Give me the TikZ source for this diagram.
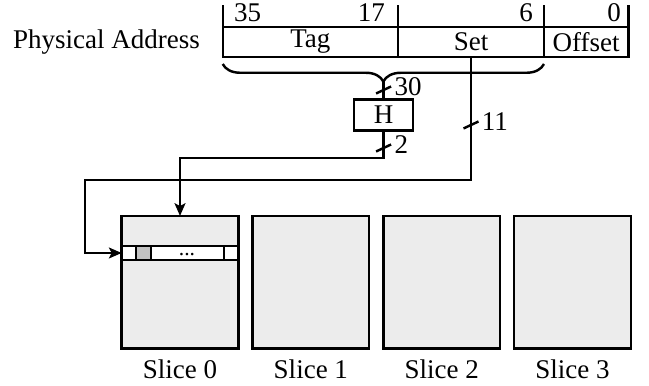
\documentclass[tikz,border=0pt]{standalone}
\usepackage{fontspec}
\setmainfont{Liberation Serif}
\usetikzlibrary{positioning,calc,arrows.meta,decorations.pathreplacing}
\definecolor{slicegray}{HTML}{ECECEC}
\definecolor{cellgray}{HTML}{C2C2C2}

\begin{document}
\begin{tikzpicture}[x=0.01302cm,y=-0.01302cm,line width=0.9pt,
	field/.style={draw,minimum height=11.1pt,inner sep=0pt,outer sep=0pt},
	bitno/.style={anchor=base east,inner sep=0pt},
	slicebox/.style={draw,fill=slicegray,minimum width=43.2pt,minimum height=49pt,inner sep=0pt,outer sep=0pt},
	wire/.style={line width=0.9pt},
	towire/.style={line width=0.9pt,-{Stealth[length=4.7pt,width=4pt,inset=1pt]}},
	slash/.style={line width=0.9pt},
	buslabel/.style={anchor=west,inner sep=1pt,shift={(7,-3)}}]
	\useasboundingbox (0,0) rectangle (649,386);
	% address
	\node[field,minimum width=64.9pt] (tag) at (310.35,42) {Tag};
	\node[field,minimum width=54.1pt,right=0pt of tag] (set) {Set};
	\node[field,minimum width=31.2pt,right=0pt of set] (offset) {Offset};
	\node[inner sep=0pt,left=8pt of tag] (pa) {Physical Address};
	\foreach \p in {tag.north west,set.north west,offset.north west,offset.north east}
		\draw (\p) -- ++(0,-22);
	\node[anchor=base west,inner sep=0pt] (b35) at (233,21.7) {35};
	\node[bitno] (b17) at (386,21.7) {17};
	\node[bitno] (b6) at (534,21.7) {6};
	\node[bitno] (b0) at (622,21.7) {0};
	% brace and hash
	\draw[decorate,decoration={brace,mirror,amplitude=6.5pt}] (222.7,64) -- (544,64);
	\coordinate (tip) at (383.6,81.5);
	\node[draw,minimum width=21.9pt,minimum height=11.6pt,inner sep=0pt] (hash) at (383.6,115) {H};
	\draw[wire] (tip) -- (hash.north);
	% slices
	\node[slicebox] (s0) at (180,282.15) {};
	\foreach \i [remember=\i as \j (initially 0)] in {1,2,3}
		\node[slicebox,right=5.26pt of s\j] (s\i) {};
	\foreach \i in {0,...,3}
		\node[below=0.5pt of s\i] (l\i) {Slice \i};
	\node[draw,fill=white,minimum width=43.2pt,minimum height=5.2pt,inner sep=0pt,outer sep=0pt] (row) at (180,253) {};
	\draw[fill=cellgray] (136,246) rectangle (151,260);
	\draw (224,246) -- (224,260);
	\node[font=\footnotesize,anchor=base,inner sep=0pt] (dots) at (187,256) {...};
	% wires
	\coordinate (hbend) at (180,158);
	\draw[towire] (hash.south) |- (hbend) -- (s0.north);
	\coordinate (setbend) at (85,180);
	\draw[towire] (set.south) |- (setbend) |- (row.west);
	\coordinate (c30) at (383.6,90);
	\coordinate (c2) at (383.6,148);
	\coordinate (c11) at (471,125);
	\foreach \c in {c30,c2,c11}
		\draw[slash] (\c) +(-7.5,3.5) -- +(7.5,-3.5);
	\node[buslabel] (n30) at (c30) {30};
	\node[buslabel] (n2) at (c2) {2};
	\node[buslabel] (n11) at (c11) {11};
\end{tikzpicture}
\end{document}
